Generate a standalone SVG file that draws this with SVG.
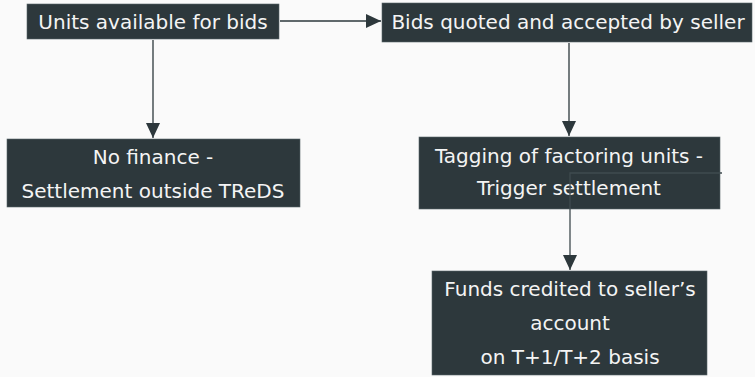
<svg xmlns="http://www.w3.org/2000/svg" width="755" height="377" viewBox="0 0 755 377">
  <style>
    .box { fill: #2d383c; stroke: #59666a; stroke-width: 0.6; }
    .lbl { font-family: "DejaVu Sans", "Liberation Sans", sans-serif; font-size: 20px; fill: #f4f4f4; text-anchor: middle; }
    .edge { fill: none; stroke: #2d383c; stroke-width: 1.3; }
  </style>
  <defs>
    <marker id="arrow" viewBox="0 0 15 14" refX="15" refY="7" markerWidth="15" markerHeight="14" markerUnits="userSpaceOnUse" orient="auto">
      <path d="M0,0 L15,7 L0,14 Z" fill="#2d383c"/>
    </marker>
  </defs>
  <rect width="755" height="377" fill="#fafafa"/>

  <g id="n-units">
    <rect class="box" x="27" y="4" width="252" height="35"/>
    <text class="lbl" x="153" y="29">Units available for bids</text>
  </g>

  <g id="n-bids">
    <rect class="box" x="382" y="3" width="370" height="39"/>
    <text class="lbl" x="568" y="29">Bids quoted and accepted by seller</text>
  </g>

  <g id="n-nofinance">
    <rect class="box" x="7" y="139" width="293" height="68"/>
    <text class="lbl" x="153" y="164">No finance -</text>
    <text class="lbl" x="153" y="198">Settlement outside TReDS</text>
  </g>

  <g id="n-tagging">
    <rect class="box" x="419" y="137" width="301" height="72"/>
    <text class="lbl" x="569" y="163">Tagging of factoring units -</text>
    <text class="lbl" x="569" y="195">Trigger settlement</text>
  </g>

  <g id="n-funds">
    <rect class="box" x="432" y="271" width="275" height="104"/>
    <text class="lbl" x="570" y="296">Funds credited to seller’s</text>
    <text class="lbl" x="570" y="330">account</text>
    <text class="lbl" x="570" y="364">on T+1/T+2 basis</text>
  </g>

  <g id="connectors">
    <path class="edge" d="M280,21 L381,21" marker-end="url(#arrow)"/>
    <path class="edge" d="M153,40 L153,138" marker-end="url(#arrow)"/>
    <path class="edge" d="M569,43 L569,136" marker-end="url(#arrow)"/>
    <path class="edge" stroke-width="0.8" d="M722,173 L570,173 L570,270" marker-end="url(#arrow)" style="stroke:#3f4b4f"/>
  </g>
</svg>
